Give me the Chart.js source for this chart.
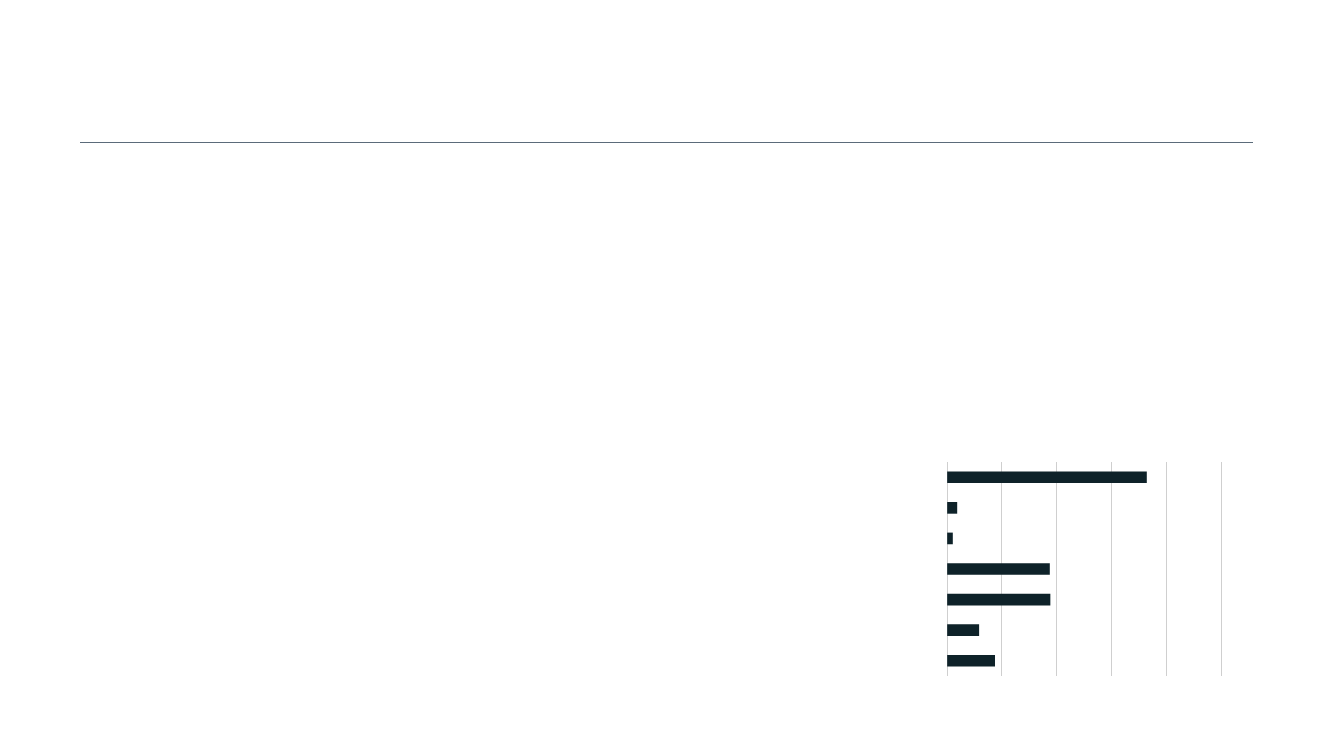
<!DOCTYPE html>
<html>
<head>
<meta charset="utf-8">
<script src="https://cdn.jsdelivr.net/npm/chart.js@4"></script>
<style>
  html, body { margin: 0; padding: 0; background: #ffffff; width: 1333px; height: 750px; overflow: hidden; }
  #rule { position: absolute; left: 80px; top: 142px; width: 1173px; height: 1px; background: #5b6b7a; }
  #wrap { position: absolute; left: 945px; top: 461px; width: 278px; height: 216px; }
</style>
</head>
<body>
<div id="rule"></div>
<div id="wrap"><canvas id="c"></canvas></div>
<script>
const categories = ["A", "B", "C", "D", "E", "F", "G"];
const values = [36.4, 1.8, 1.0, 18.7, 18.8, 5.8, 8.7];
const axisMin = 0;
const axisMax = 50;
const axisStep = 10;

new Chart(document.getElementById('c'), {
  type: 'bar',
  data: {
    labels: categories,
    datasets: [{
      data: values,
      backgroundColor: '#0e2229',
      borderWidth: 0,
      barThickness: 11
    }]
  },
  options: {
    indexAxis: 'y',
    responsive: true,
    maintainAspectRatio: false,
    animation: false,
    layout: { padding: { left: 2, right: 2, top: 1, bottom: 1 } },
    plugins: { legend: { display: false }, tooltip: { enabled: false } },
    scales: {
      x: {
        min: axisMin, max: axisMax,
        ticks: { display: false, stepSize: axisStep },
        grid: { color: '#cfcfcf', lineWidth: 1, drawTicks: false },
        border: { display: false }
      },
      y: {
        display: false,
        grid: { display: false }
      }
    }
  }
});
</script>
</body>
</html>
